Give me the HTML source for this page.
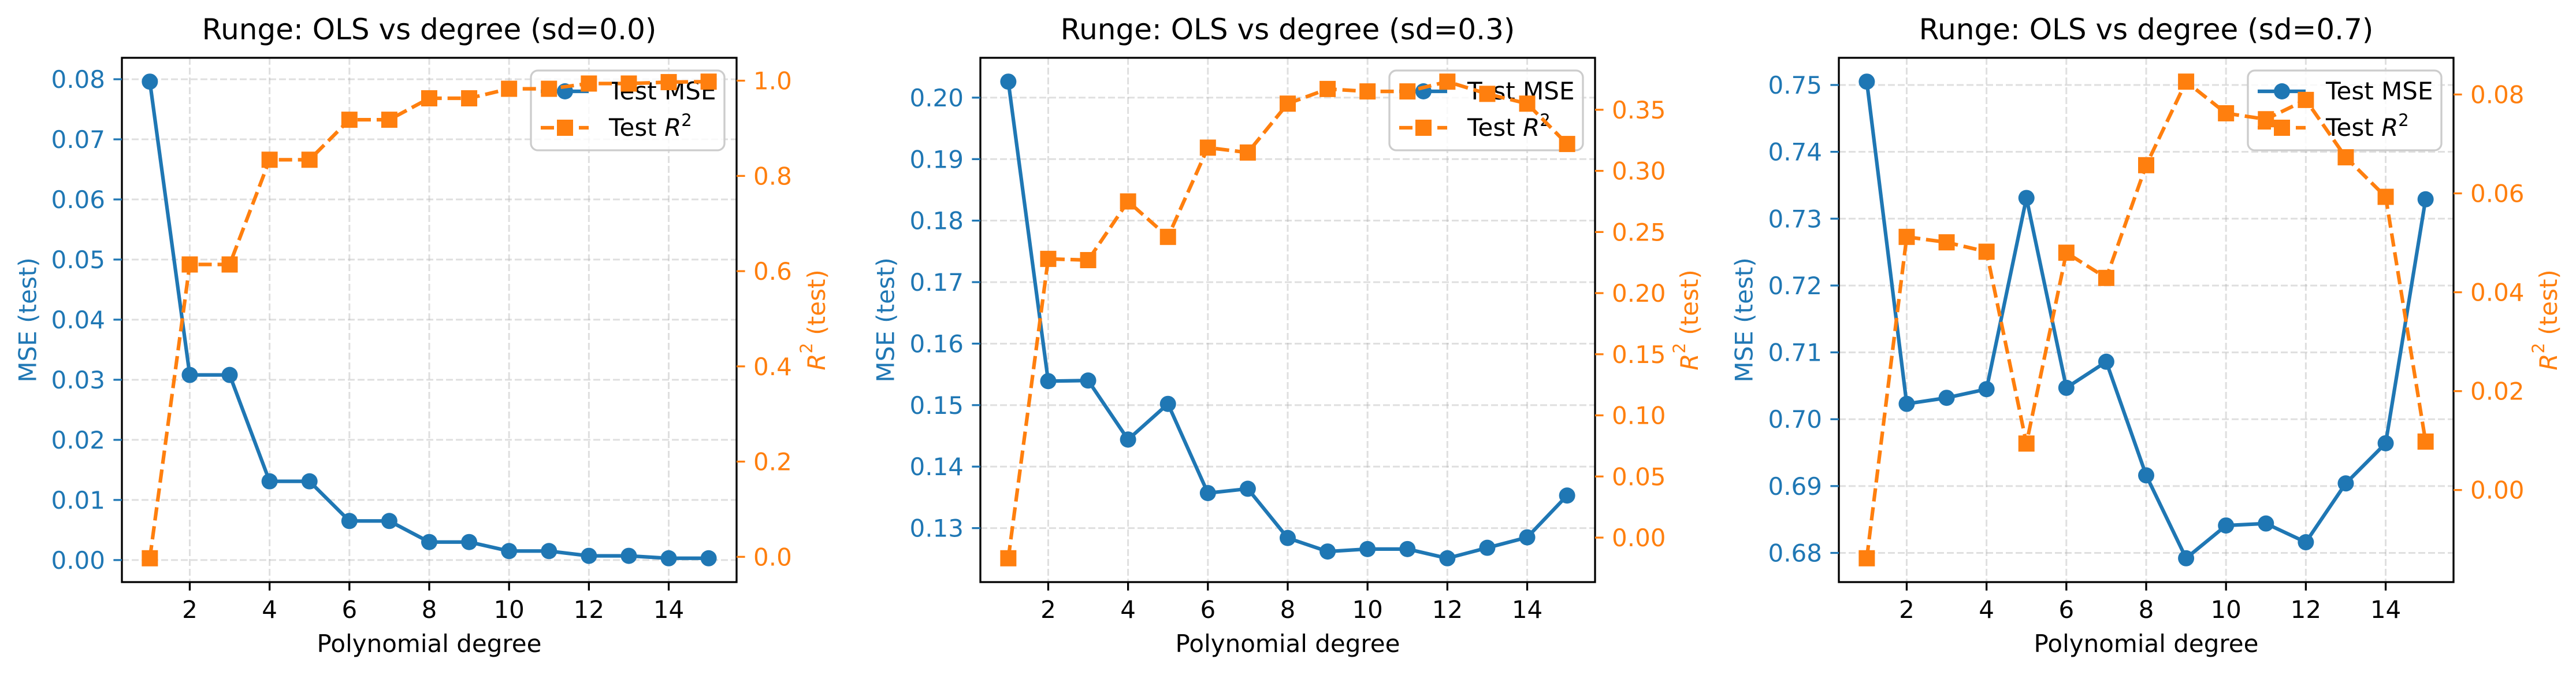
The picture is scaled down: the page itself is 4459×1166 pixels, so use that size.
<!DOCTYPE html>
<html><head><meta charset="utf-8"><style>
html,body{margin:0;padding:0;background:#fff;}
svg{display:block;font-family:"DejaVu Sans","Liberation Sans",sans-serif;}
</style></head><body>
<svg id="fig" width="4459" height="1166" viewBox="0 0 4459 1166" xmlns="http://www.w3.org/2000/svg"></svg>
<script>
const degrees = [1,2,3,4,5,6,7,8,9,10,11,12,13,14,15];
const titles = ["Runge: OLS vs degree (sd=0.0)","Runge: OLS vs degree (sd=0.3)","Runge: OLS vs degree (sd=0.7)"];
const mse0 = [0.0796,0.0308,0.0308,0.0131,0.0131,0.0065,0.0065,0.0030,0.0030,0.0015,0.0015,0.0007,0.0007,0.0003,0.0003];
const r20 = [-0.003,0.614,0.614,0.834,0.834,0.918,0.918,0.963,0.963,0.983,0.983,0.994,0.994,0.997,0.998];
const mse1 = [0.2026,0.1539,0.1540,0.1444,0.1502,0.1357,0.1364,0.1284,0.1262,0.1266,0.1266,0.1251,0.1268,0.1285,0.1353];
const r21 = [-0.0169,0.228,0.227,0.275,0.246,0.319,0.315,0.355,0.367,0.365,0.365,0.373,0.363,0.355,0.322];
const mse2 = [0.7505,0.7023,0.7032,0.7045,0.7331,0.7047,0.7086,0.6916,0.6792,0.6841,0.6844,0.6816,0.6904,0.6964,0.7329];
const r22 = [-0.0138,0.0512,0.0501,0.0482,0.0094,0.0480,0.0429,0.0657,0.0826,0.0762,0.0750,0.0789,0.0673,0.0593,0.0098];
const xTicks = [2,4,6,8,10,12,14];
const leftTicks0 = ["0.00","0.01","0.02","0.03","0.04","0.05","0.06","0.07","0.08"];
const rightTicks0 = ["0.0","0.2","0.4","0.6","0.8","1.0"];
const leftTicks1 = ["0.13","0.14","0.15","0.16","0.17","0.18","0.19","0.20"];
const rightTicks1 = ["0.00","0.05","0.10","0.15","0.20","0.25","0.30","0.35"];
const leftTicks2 = ["0.68","0.69","0.70","0.71","0.72","0.73","0.74","0.75"];
const rightTicks2 = ["0.00","0.02","0.04","0.06","0.08"];

const NS="http://www.w3.org/2000/svg";
const svg=document.getElementById('fig');
const BLUE="#1f77b4", ORANGE="#ff7f0e";
function mk(tag,attrs,parent){const e=document.createElementNS(NS,tag);for(const k in attrs)e.setAttribute(k,attrs[k]);(parent||svg).appendChild(e);return e;}
function lim(arr){const mn=Math.min(...arr),mx=Math.max(...arr),m=(mx-mn)*0.05;return [mn-m,mx+m];}

const panels=[
 {L:211,mse:mse0,r2:r20,lt:leftTicks0,rt:rightTicks0,t:titles[0],ylx:48,yrx:1413},
 {L:1697,mse:mse1,r2:r21,lt:leftTicks1,rt:rightTicks1,t:titles[1],ylx:1533,yrx:2924},
 {L:3183,mse:mse2,r2:r22,lt:leftTicks2,rt:rightTicks2,t:titles[2],ylx:3019,yrx:4411}
];
const TOP=100,BOT=1007,W=1064;
panels.forEach((p,i)=>{
 const g=mk('g',{});
 
 
 const L=p.L,R=L+W;
 const xl=lim(degrees), yl=lim(p.mse), y2=lim(p.r2);
 const sx=v=>L+(v-xl[0])/(xl[1]-xl[0])*W;
 const sy=v=>BOT-(v-yl[0])/(yl[1]-yl[0])*(BOT-TOP);
 const sy2=v=>BOT-(v-y2[0])/(y2[1]-y2[0])*(BOT-TOP);
 // grid
 xTicks.forEach(t=>{const l=mk('line',{x1:sx(t),x2:sx(t),y1:TOP,y2:BOT,stroke:'#b0b0b0','stroke-opacity':0.4,'stroke-width':3,'stroke-dasharray':'12,5'},g);
  });
 p.lt.forEach(t=>{const y=sy(+t);const l=mk('line',{x1:L,x2:R,y1:y,y2:y,stroke:'#b0b0b0','stroke-opacity':0.4,'stroke-width':3,'stroke-dasharray':'12,5'},g);
  });
 // MSE series
 const ms=mk('polyline',{points:degrees.map((d,j)=>sx(d)+','+sy(p.mse[j])).join(' '),fill:'none',stroke:BLUE,'stroke-width':6.25,'stroke-linejoin':'round'},g);
 
 degrees.forEach((d,j)=>{const c=mk('circle',{cx:sx(d),cy:sy(p.mse[j]),r:14,fill:BLUE},g);
  });
 // legend (ax1)
 const lg=mk('g',{},g);
 
 const lx=R-356;
 mk('rect',{x:lx,y:122,width:335,height:138,rx:12,fill:'#fff','fill-opacity':0.8,stroke:'#cccccc','stroke-width':3.3},lg);
 mk('line',{x1:lx+17,x2:lx+100,y1:158,y2:158,stroke:BLUE,'stroke-width':6.25},lg);
 mk('circle',{cx:lx+59,cy:158,r:14,fill:BLUE},lg);
 const t1=mk('text',{x:lx+135,y:172,'font-size':42,fill:'#000'},lg);t1.textContent='Test MSE';
 
 mk('line',{x1:lx+17,x2:lx+100,y1:221,y2:221,stroke:ORANGE,'stroke-width':6.25,'stroke-dasharray':'23,10'},lg);
 mk('rect',{x:lx+45,y:207,width:28,height:28,fill:ORANGE},lg);
 const t2=mk('text',{x:lx+135,y:235,'font-size':42,fill:'#000'},lg);
 t2.innerHTML='Test <tspan font-style="italic">R</tspan><tspan font-size="29" dy="-17">2</tspan>';
 
 // R2 series
 const rs=mk('polyline',{points:degrees.map((d,j)=>sx(d)+','+sy2(p.r2[j])).join(' '),fill:'none',stroke:ORANGE,'stroke-width':6.25,'stroke-dasharray':'23,10'},g);
 
 degrees.forEach((d,j)=>{const s=mk('rect',{x:sx(d)-14,y:sy2(p.r2[j])-14,width:28,height:28,fill:ORANGE},g);
  });
 // frame
 const fr=mk('rect',{x:L,y:TOP,width:W,height:BOT-TOP,fill:'none',stroke:'#000','stroke-width':3.3},g);
 
 // x ticks
 xTicks.forEach(t=>{mk('line',{x1:sx(t),x2:sx(t),y1:BOT,y2:BOT+14.6,stroke:'#000','stroke-width':3.3},g);
  const tx=mk('text',{x:sx(t),y:1069,'font-size':42,'text-anchor':'middle',fill:'#000'},g);tx.textContent=t;
  });
 // left ticks
 p.lt.forEach(t=>{const y=sy(+t);mk('line',{x1:L-14.6,x2:L,y1:y,y2:y,stroke:BLUE,'stroke-width':3.3},g);
  const tx=mk('text',{x:L-29,y:y+15,'font-size':42,'text-anchor':'end',fill:BLUE},g);tx.textContent=t;
  });
 // right ticks
 p.rt.forEach(t=>{const y=sy2(+t);mk('line',{x1:R,x2:R+14.6,y1:y,y2:y,stroke:ORANGE,'stroke-width':3.3},g);
  const tx=mk('text',{x:R+29,y:y+15,'font-size':42,'text-anchor':'start',fill:ORANGE},g);tx.textContent=t;
  });
 // labels
 const ti=mk('text',{x:L+W/2,y:68,'font-size':50,'text-anchor':'middle',fill:'#000'},g);ti.textContent=p.t;
 
 const xlb=mk('text',{x:L+W/2,y:1128,'font-size':42,'text-anchor':'middle',fill:'#000'},g);xlb.textContent='Polynomial degree';
 
 const cy=(TOP+BOT)/2;
 const yl1=mk('text',{x:p.ylx,y:cy,'font-size':42,'text-anchor':'middle','dominant-baseline':'central',fill:BLUE,transform:`rotate(-90 ${p.ylx} ${cy})`},g);yl1.textContent='MSE (test)';
 
 const yl2=mk('text',{x:p.yrx,y:cy,'font-size':42,'text-anchor':'middle','dominant-baseline':'central',fill:ORANGE,transform:`rotate(-90 ${p.yrx} ${cy})`},g);
 yl2.innerHTML='<tspan font-style="italic">R</tspan><tspan font-size="29" dy="-17">2</tspan><tspan dy="17"> (test)</tspan>';
 
});
</script>
</body></html>
